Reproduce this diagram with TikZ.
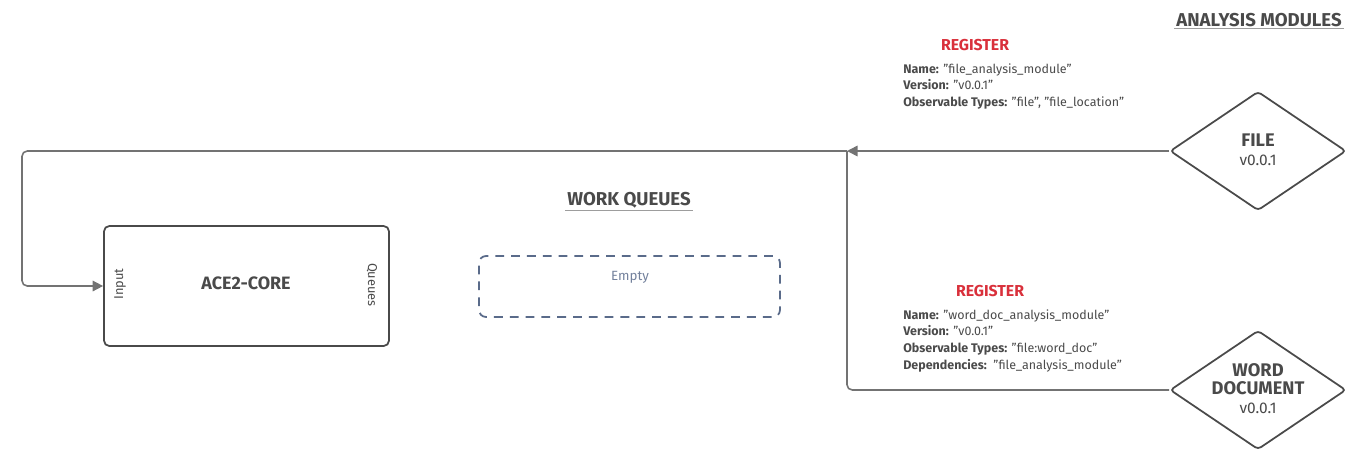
\documentclass[tikz,border=0pt]{standalone}
\usepackage{fontspec}
\setmainfont{Fira Sans}
\usetikzlibrary{shapes.geometric,arrows.meta}
\definecolor{linegray}{HTML}{737373}
\definecolor{boxgray}{HTML}{4A4A4A}
\definecolor{queueblue}{HTML}{5A6B8A}
\definecolor{regred}{HTML}{D9303B}
\newcommand{\modname}[1]{{\bfseries\fontsize{10.4}{11.5}\selectfont #1}}
\tikzset{
  conn/.style={draw=linegray, line width=0.9pt, rounded corners=3pt},
  tip/.style={-{Triangle[length=6pt,width=6pt]}},
  corebox/.style={draw=boxgray, line width=1pt, rounded corners=3pt,
    minimum width=5.7cm, minimum height=2.4cm},
  module/.style={diamond, draw=boxgray, line width=1pt, rounded corners=2pt,
    minimum width=3.52cm, minimum height=2.38cm, inner sep=0pt},
  modtext/.style={align=center, font=\fontsize{8.8}{11}\selectfont, text=boxgray, inner sep=0pt},
  heading/.style={font=\bfseries\fontsize{10.6}{12}\selectfont, text=boxgray, inner sep=1pt},
  regtitle/.style={font=\bfseries\fontsize{9}{10}\selectfont, text=regred},
  reginfo/.style={font=\fontsize{7.1}{9.6}\selectfont, align=left, text=boxgray, inner sep=0pt},
}
\begin{document}
\begin{tikzpicture}[x=0.02cm,y=-0.02cm]
  \useasboundingbox (0,0) rectangle (1362,464);
  % headings
  \node[heading] (amtitle) at (1259,20) {ANALYSIS MODULES};
  \draw[linegray!70, line width=0.6pt] (amtitle.south west) -- (amtitle.south east);
  \node[heading] (wqtitle) at (629,200) {WORK QUEUES};
  \draw[linegray!70, line width=0.6pt] (wqtitle.south west) -- (wqtitle.south east);
  % core
  \node[corebox] (core) at (246.5,286) {};
  \node[font=\bfseries\fontsize{10.2}{12}\selectfont, text=boxgray] (corename) at (246,283) {ACE2-CORE};
  \node[rotate=90, font=\fontsize{7.3}{8}\selectfont, text=boxgray] (input) at (120,284) {Input};
  \node[rotate=-90, font=\fontsize{7.3}{8}\selectfont, text=boxgray] (queues) at (372,285) {Queues};
  % work queues
  \node[draw=queueblue, dash pattern=on 5pt off 4pt, line width=1pt, rounded corners=4pt,
    minimum width=6.02cm, minimum height=1.22cm] (empty) at (629.5,286.5) {};
  \node[text=queueblue!85, font=\fontsize{7.6}{8}\selectfont] (emptytxt) at (630,277) {Empty};
  % modules
  \node[module] (file) at (1258,151) {};
  \node[modtext] (filetxt) at (1258,150) {\modname{FILE}\\ v0.0.1};
  \node[module] (word) at (1258,390) {};
  \node[modtext] (wordtxt) at (1258,389) {\modname{WORD}\\[-1pt] \modname{DOCUMENT}\\ v0.0.1};
  % registrations
  \node[regtitle] (reg1) at (975,45) {REGISTER};
  \node[reginfo, anchor=north west] (info1) at (903,63) {%
    \textbf{Name:} "file\_analysis\_module"\\
    \textbf{Version:} "v0.0.1"\\
    \textbf{Observable Types:} "file", "file\_location"};
  \node[regtitle] (reg2) at (990,291) {REGISTER};
  \node[reginfo, anchor=north west] (info2) at (903,309) {%
    \textbf{Name:} "word\_doc\_analysis\_module"\\
    \textbf{Version:} "v0.0.1"\\
    \textbf{Observable Types:} "file:word\_doc"\\
    \textbf{Dependencies:}\ \ "file\_analysis\_module"};
  % connectors
  \coordinate (jn) at (847,151);
  \coordinate (bend) at (22,151);
  \draw[conn] (word.west) -| (jn);
  \draw[conn, tip] (file.west) -- (jn);
  \draw[conn, tip] (jn) -- (bend) |- (core.west);
\end{tikzpicture}
\end{document}
